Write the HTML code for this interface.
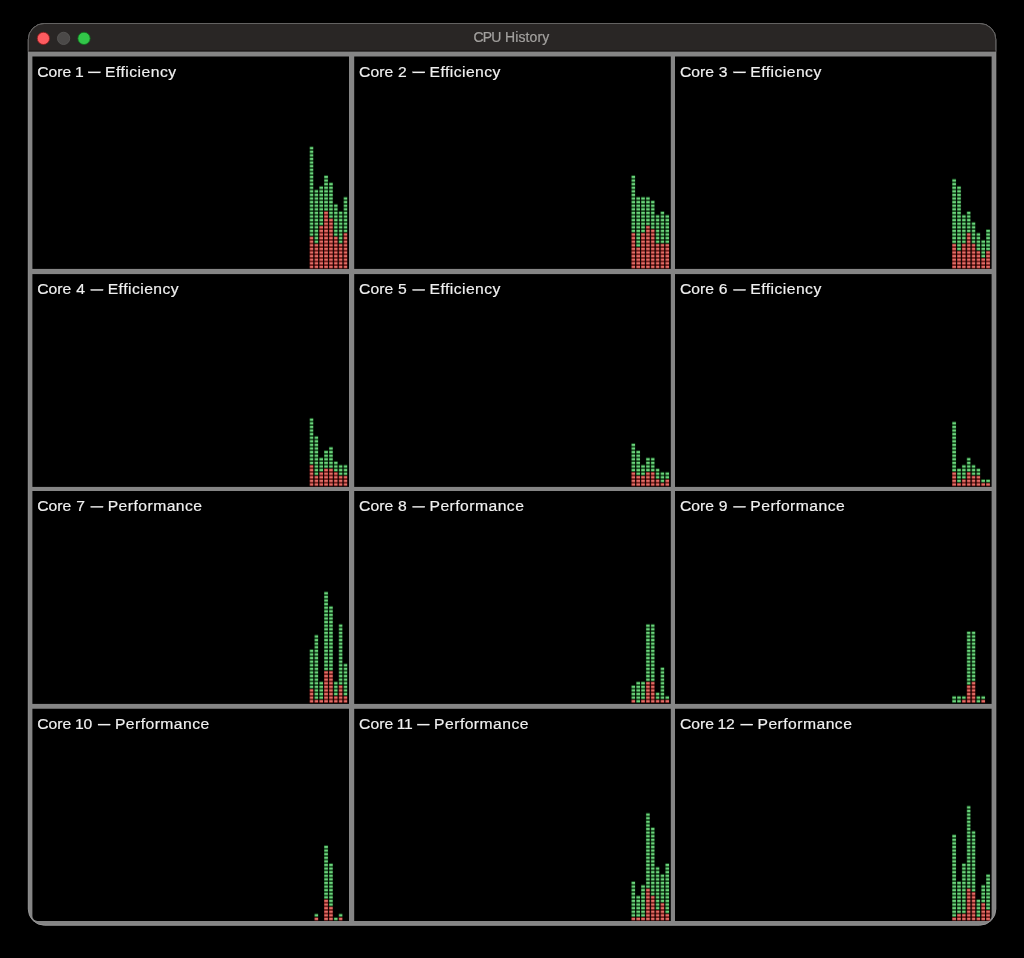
<!DOCTYPE html><html><head><meta charset="utf-8"><style>html,body{margin:0;padding:0;background:#000;overflow:hidden;width:1024px;height:958px;}svg{display:block}</style></head><body>
<svg width="1024" height="958" viewBox="0 0 1024 958">
<defs>
<pattern id="r" patternUnits="userSpaceOnUse" x="0" y="0" width="4.85" height="3.597"><rect x="0" y="0" width="4.2" height="3.597" fill="#520503"/><rect x="0.28" y="0.7" width="3.64" height="2.28" fill="#e46e68"/></pattern>
<pattern id="g" patternUnits="userSpaceOnUse" x="0" y="0" width="4.85" height="3.597"><rect x="0" y="0" width="4.2" height="3.597" fill="#022a07"/><rect x="0.28" y="0.7" width="3.64" height="2.28" fill="#6bd47c"/></pattern>
<clipPath id="tb"><rect x="0" y="0" width="1024" height="51.4"/></clipPath>
</defs>
<rect width="1024" height="958" fill="#000"/>
<rect x="28.3" y="23.5" width="967.5" height="901.7" rx="16.0" ry="16.0" fill="#858585" stroke="#989898" stroke-width="1"/>
<rect clip-path="url(#tb)" x="28.3" y="23.5" width="967.5" height="901.7" rx="16.0" ry="16.0" fill="#292625" stroke="#636261" stroke-width="1"/>
<rect x="28.8" y="50.1" width="966.5" height="1.3" fill="#1d1b1a"/>
<circle cx="43.4" cy="38.4" r="6.15" fill="#fd5b60" stroke="#8e1a1c" stroke-width="0.8"/>
<circle cx="63.6" cy="38.4" r="6.15" fill="#4b4948" stroke="#5b5958" stroke-width="0.8"/>
<circle cx="84.0" cy="38.4" r="6.15" fill="#32c649" stroke="#0f6c1c" stroke-width="0.8"/>
<g style="filter:blur(0)">
<g font-family="Liberation Sans" font-size="14" fill="#a3a19f" stroke="#a3a19f" stroke-width="0.2"><text x="473.4" y="42.2" letter-spacing="-0.8">CPU</text><text x="505.0" y="42.2" letter-spacing="0.12">History</text></g>
</g>
<rect x="32.4" y="56.5" width="316.6" height="212.4" fill="#000"/>
<g transform="translate(309.45,268.65)"><rect x="0.00" y="-32.37" width="4.2" height="32.37" fill="url(#r)"/><rect x="0.00" y="-122.30" width="4.2" height="89.92" fill="url(#g)"/><rect x="4.85" y="-25.18" width="4.2" height="25.18" fill="url(#r)"/><rect x="4.85" y="-79.13" width="4.2" height="53.95" fill="url(#g)"/><rect x="9.70" y="-43.16" width="4.2" height="43.16" fill="url(#r)"/><rect x="9.70" y="-82.73" width="4.2" height="39.57" fill="url(#g)"/><rect x="14.55" y="-57.55" width="4.2" height="57.55" fill="url(#r)"/><rect x="14.55" y="-93.52" width="4.2" height="35.97" fill="url(#g)"/><rect x="19.40" y="-50.36" width="4.2" height="50.36" fill="url(#r)"/><rect x="19.40" y="-86.33" width="4.2" height="35.97" fill="url(#g)"/><rect x="24.25" y="-32.37" width="4.2" height="32.37" fill="url(#r)"/><rect x="24.25" y="-64.75" width="4.2" height="32.37" fill="url(#g)"/><rect x="29.10" y="-25.18" width="4.2" height="25.18" fill="url(#r)"/><rect x="29.10" y="-57.55" width="4.2" height="32.37" fill="url(#g)"/><rect x="33.95" y="-35.97" width="4.2" height="35.97" fill="url(#r)"/><rect x="33.95" y="-71.94" width="4.2" height="35.97" fill="url(#g)"/></g>
<rect x="354.2" y="56.5" width="316.6" height="212.4" fill="#000"/>
<g transform="translate(631.25,268.65)"><rect x="0.00" y="-35.97" width="4.2" height="35.97" fill="url(#r)"/><rect x="0.00" y="-93.52" width="4.2" height="57.55" fill="url(#g)"/><rect x="4.85" y="-21.58" width="4.2" height="21.58" fill="url(#r)"/><rect x="4.85" y="-71.94" width="4.2" height="50.36" fill="url(#g)"/><rect x="9.70" y="-35.97" width="4.2" height="35.97" fill="url(#r)"/><rect x="9.70" y="-71.94" width="4.2" height="35.97" fill="url(#g)"/><rect x="14.55" y="-43.16" width="4.2" height="43.16" fill="url(#r)"/><rect x="14.55" y="-71.94" width="4.2" height="28.78" fill="url(#g)"/><rect x="19.40" y="-39.57" width="4.2" height="39.57" fill="url(#r)"/><rect x="19.40" y="-68.34" width="4.2" height="28.78" fill="url(#g)"/><rect x="24.25" y="-25.18" width="4.2" height="25.18" fill="url(#r)"/><rect x="24.25" y="-53.95" width="4.2" height="28.78" fill="url(#g)"/><rect x="29.10" y="-25.18" width="4.2" height="25.18" fill="url(#r)"/><rect x="29.10" y="-57.55" width="4.2" height="32.37" fill="url(#g)"/><rect x="33.95" y="-25.18" width="4.2" height="25.18" fill="url(#r)"/><rect x="33.95" y="-53.95" width="4.2" height="28.78" fill="url(#g)"/></g>
<rect x="675.0" y="56.5" width="316.6" height="212.4" fill="#000"/>
<g transform="translate(952.05,268.65)"><rect x="0.00" y="-25.18" width="4.2" height="25.18" fill="url(#r)"/><rect x="0.00" y="-89.92" width="4.2" height="64.75" fill="url(#g)"/><rect x="4.85" y="-17.98" width="4.2" height="17.98" fill="url(#r)"/><rect x="4.85" y="-82.73" width="4.2" height="64.75" fill="url(#g)"/><rect x="9.70" y="-25.18" width="4.2" height="25.18" fill="url(#r)"/><rect x="9.70" y="-53.95" width="4.2" height="28.78" fill="url(#g)"/><rect x="14.55" y="-35.97" width="4.2" height="35.97" fill="url(#r)"/><rect x="14.55" y="-57.55" width="4.2" height="21.58" fill="url(#g)"/><rect x="19.40" y="-25.18" width="4.2" height="25.18" fill="url(#r)"/><rect x="19.40" y="-46.76" width="4.2" height="21.58" fill="url(#g)"/><rect x="24.25" y="-17.98" width="4.2" height="17.98" fill="url(#r)"/><rect x="24.25" y="-35.97" width="4.2" height="17.98" fill="url(#g)"/><rect x="29.10" y="-10.79" width="4.2" height="10.79" fill="url(#r)"/><rect x="29.10" y="-28.78" width="4.2" height="17.98" fill="url(#g)"/><rect x="33.95" y="-17.98" width="4.2" height="17.98" fill="url(#r)"/><rect x="33.95" y="-39.57" width="4.2" height="21.58" fill="url(#g)"/></g>
<rect x="32.4" y="274.1" width="316.6" height="212.8" fill="#000"/>
<g transform="translate(309.45,486.25)"><rect x="0.00" y="-21.58" width="4.2" height="21.58" fill="url(#r)"/><rect x="0.00" y="-68.34" width="4.2" height="46.76" fill="url(#g)"/><rect x="4.85" y="-10.79" width="4.2" height="10.79" fill="url(#r)"/><rect x="4.85" y="-50.36" width="4.2" height="39.57" fill="url(#g)"/><rect x="9.70" y="-14.39" width="4.2" height="14.39" fill="url(#r)"/><rect x="9.70" y="-28.78" width="4.2" height="14.39" fill="url(#g)"/><rect x="14.55" y="-17.98" width="4.2" height="17.98" fill="url(#r)"/><rect x="14.55" y="-35.97" width="4.2" height="17.98" fill="url(#g)"/><rect x="19.40" y="-17.98" width="4.2" height="17.98" fill="url(#r)"/><rect x="19.40" y="-39.57" width="4.2" height="21.58" fill="url(#g)"/><rect x="24.25" y="-14.39" width="4.2" height="14.39" fill="url(#r)"/><rect x="24.25" y="-25.18" width="4.2" height="10.79" fill="url(#g)"/><rect x="29.10" y="-10.79" width="4.2" height="10.79" fill="url(#r)"/><rect x="29.10" y="-21.58" width="4.2" height="10.79" fill="url(#g)"/><rect x="33.95" y="-10.79" width="4.2" height="10.79" fill="url(#r)"/><rect x="33.95" y="-21.58" width="4.2" height="10.79" fill="url(#g)"/></g>
<rect x="354.2" y="274.1" width="316.6" height="212.8" fill="#000"/>
<g transform="translate(631.25,486.25)"><rect x="0.00" y="-14.39" width="4.2" height="14.39" fill="url(#r)"/><rect x="0.00" y="-43.16" width="4.2" height="28.78" fill="url(#g)"/><rect x="4.85" y="-10.79" width="4.2" height="10.79" fill="url(#r)"/><rect x="4.85" y="-35.97" width="4.2" height="25.18" fill="url(#g)"/><rect x="9.70" y="-10.79" width="4.2" height="10.79" fill="url(#r)"/><rect x="9.70" y="-21.58" width="4.2" height="10.79" fill="url(#g)"/><rect x="14.55" y="-14.39" width="4.2" height="14.39" fill="url(#r)"/><rect x="14.55" y="-28.78" width="4.2" height="14.39" fill="url(#g)"/><rect x="19.40" y="-14.39" width="4.2" height="14.39" fill="url(#r)"/><rect x="19.40" y="-28.78" width="4.2" height="14.39" fill="url(#g)"/><rect x="24.25" y="-7.19" width="4.2" height="7.19" fill="url(#r)"/><rect x="24.25" y="-17.98" width="4.2" height="10.79" fill="url(#g)"/><rect x="29.10" y="-3.60" width="4.2" height="3.60" fill="url(#r)"/><rect x="29.10" y="-14.39" width="4.2" height="10.79" fill="url(#g)"/><rect x="33.95" y="-7.19" width="4.2" height="7.19" fill="url(#r)"/><rect x="33.95" y="-14.39" width="4.2" height="7.19" fill="url(#g)"/></g>
<rect x="675.0" y="274.1" width="316.6" height="212.8" fill="#000"/>
<g transform="translate(952.05,486.25)"><rect x="0.00" y="-14.39" width="4.2" height="14.39" fill="url(#r)"/><rect x="0.00" y="-64.75" width="4.2" height="50.36" fill="url(#g)"/><rect x="4.85" y="-3.60" width="4.2" height="3.60" fill="url(#r)"/><rect x="4.85" y="-17.98" width="4.2" height="14.39" fill="url(#g)"/><rect x="9.70" y="-7.19" width="4.2" height="7.19" fill="url(#r)"/><rect x="9.70" y="-21.58" width="4.2" height="14.39" fill="url(#g)"/><rect x="14.55" y="-14.39" width="4.2" height="14.39" fill="url(#r)"/><rect x="14.55" y="-28.78" width="4.2" height="14.39" fill="url(#g)"/><rect x="19.40" y="-10.79" width="4.2" height="10.79" fill="url(#r)"/><rect x="19.40" y="-21.58" width="4.2" height="10.79" fill="url(#g)"/><rect x="24.25" y="-10.79" width="4.2" height="10.79" fill="url(#r)"/><rect x="24.25" y="-17.98" width="4.2" height="7.19" fill="url(#g)"/><rect x="29.10" y="-3.60" width="4.2" height="3.60" fill="url(#r)"/><rect x="29.10" y="-7.19" width="4.2" height="3.60" fill="url(#g)"/><rect x="33.95" y="-3.60" width="4.2" height="3.60" fill="url(#r)"/><rect x="33.95" y="-7.19" width="4.2" height="3.60" fill="url(#g)"/></g>
<rect x="32.4" y="491.0" width="316.6" height="212.9" fill="#000"/>
<g transform="translate(309.45,703.00)"><rect x="0.00" y="-14.39" width="4.2" height="14.39" fill="url(#r)"/><rect x="0.00" y="-53.95" width="4.2" height="39.57" fill="url(#g)"/><rect x="4.85" y="-3.60" width="4.2" height="3.60" fill="url(#r)"/><rect x="4.85" y="-68.34" width="4.2" height="64.75" fill="url(#g)"/><rect x="9.70" y="-3.60" width="4.2" height="3.60" fill="url(#r)"/><rect x="9.70" y="-21.58" width="4.2" height="17.98" fill="url(#g)"/><rect x="14.55" y="-32.37" width="4.2" height="32.37" fill="url(#r)"/><rect x="14.55" y="-111.51" width="4.2" height="79.13" fill="url(#g)"/><rect x="19.40" y="-32.37" width="4.2" height="32.37" fill="url(#r)"/><rect x="19.40" y="-97.12" width="4.2" height="64.75" fill="url(#g)"/><rect x="24.25" y="-7.19" width="4.2" height="7.19" fill="url(#r)"/><rect x="24.25" y="-21.58" width="4.2" height="14.39" fill="url(#g)"/><rect x="29.10" y="-17.98" width="4.2" height="17.98" fill="url(#r)"/><rect x="29.10" y="-79.13" width="4.2" height="61.15" fill="url(#g)"/><rect x="33.95" y="-7.19" width="4.2" height="7.19" fill="url(#r)"/><rect x="33.95" y="-39.57" width="4.2" height="32.37" fill="url(#g)"/></g>
<rect x="354.2" y="491.0" width="316.6" height="212.9" fill="#000"/>
<g transform="translate(631.25,703.00)"><rect x="0.00" y="-3.60" width="4.2" height="3.60" fill="url(#r)"/><rect x="0.00" y="-17.98" width="4.2" height="14.39" fill="url(#g)"/><rect x="4.85" y="-21.58" width="4.2" height="21.58" fill="url(#g)"/><rect x="9.70" y="-3.60" width="4.2" height="3.60" fill="url(#r)"/><rect x="9.70" y="-21.58" width="4.2" height="17.98" fill="url(#g)"/><rect x="14.55" y="-21.58" width="4.2" height="21.58" fill="url(#r)"/><rect x="14.55" y="-79.13" width="4.2" height="57.55" fill="url(#g)"/><rect x="19.40" y="-21.58" width="4.2" height="21.58" fill="url(#r)"/><rect x="19.40" y="-79.13" width="4.2" height="57.55" fill="url(#g)"/><rect x="24.25" y="-3.60" width="4.2" height="3.60" fill="url(#r)"/><rect x="24.25" y="-10.79" width="4.2" height="7.19" fill="url(#g)"/><rect x="29.10" y="-3.60" width="4.2" height="3.60" fill="url(#r)"/><rect x="29.10" y="-35.97" width="4.2" height="32.37" fill="url(#g)"/><rect x="33.95" y="-3.60" width="4.2" height="3.60" fill="url(#r)"/><rect x="33.95" y="-7.19" width="4.2" height="3.60" fill="url(#g)"/></g>
<rect x="675.0" y="491.0" width="316.6" height="212.9" fill="#000"/>
<g transform="translate(952.05,703.00)"><rect x="0.00" y="-7.19" width="4.2" height="7.19" fill="url(#g)"/><rect x="4.85" y="-7.19" width="4.2" height="7.19" fill="url(#g)"/><rect x="9.70" y="-3.60" width="4.2" height="3.60" fill="url(#r)"/><rect x="9.70" y="-7.19" width="4.2" height="3.60" fill="url(#g)"/><rect x="14.55" y="-17.98" width="4.2" height="17.98" fill="url(#r)"/><rect x="14.55" y="-71.94" width="4.2" height="53.95" fill="url(#g)"/><rect x="19.40" y="-21.58" width="4.2" height="21.58" fill="url(#r)"/><rect x="19.40" y="-71.94" width="4.2" height="50.36" fill="url(#g)"/><rect x="24.25" y="-7.19" width="4.2" height="7.19" fill="url(#g)"/><rect x="29.10" y="-3.60" width="4.2" height="3.60" fill="url(#r)"/><rect x="29.10" y="-7.19" width="4.2" height="3.60" fill="url(#g)"/></g>
<path d="M32.4,708.8 H349.0 V921.0 H37.4 A5,5 0 0 1 32.4,916.0 Z" fill="#000"/>
<g transform="translate(309.45,920.70)"><rect x="4.85" y="-3.60" width="4.2" height="3.60" fill="url(#r)"/><rect x="4.85" y="-7.19" width="4.2" height="3.60" fill="url(#g)"/><rect x="14.55" y="-21.58" width="4.2" height="21.58" fill="url(#r)"/><rect x="14.55" y="-75.54" width="4.2" height="53.95" fill="url(#g)"/><rect x="19.40" y="-14.39" width="4.2" height="14.39" fill="url(#r)"/><rect x="19.40" y="-57.55" width="4.2" height="43.16" fill="url(#g)"/><rect x="24.25" y="-3.60" width="4.2" height="3.60" fill="url(#g)"/><rect x="29.10" y="-3.60" width="4.2" height="3.60" fill="url(#r)"/><rect x="29.10" y="-7.19" width="4.2" height="3.60" fill="url(#g)"/></g>
<rect x="354.2" y="708.8" width="316.6" height="212.2" fill="#000"/>
<g transform="translate(631.25,920.70)"><rect x="0.00" y="-3.60" width="4.2" height="3.60" fill="url(#r)"/><rect x="0.00" y="-39.57" width="4.2" height="35.97" fill="url(#g)"/><rect x="4.85" y="-3.60" width="4.2" height="3.60" fill="url(#r)"/><rect x="4.85" y="-25.18" width="4.2" height="21.58" fill="url(#g)"/><rect x="9.70" y="-3.60" width="4.2" height="3.60" fill="url(#r)"/><rect x="9.70" y="-35.97" width="4.2" height="32.37" fill="url(#g)"/><rect x="14.55" y="-32.37" width="4.2" height="32.37" fill="url(#r)"/><rect x="14.55" y="-107.91" width="4.2" height="75.54" fill="url(#g)"/><rect x="19.40" y="-25.18" width="4.2" height="25.18" fill="url(#r)"/><rect x="19.40" y="-93.52" width="4.2" height="68.34" fill="url(#g)"/><rect x="24.25" y="-10.79" width="4.2" height="10.79" fill="url(#r)"/><rect x="24.25" y="-53.95" width="4.2" height="43.16" fill="url(#g)"/><rect x="29.10" y="-17.98" width="4.2" height="17.98" fill="url(#r)"/><rect x="29.10" y="-46.76" width="4.2" height="28.78" fill="url(#g)"/><rect x="33.95" y="-7.19" width="4.2" height="7.19" fill="url(#r)"/><rect x="33.95" y="-57.55" width="4.2" height="50.36" fill="url(#g)"/></g>
<path d="M675.0,708.8 H991.6 V916.0 A5,5 0 0 1 986.6,921.0 H675.0 Z" fill="#000"/>
<g transform="translate(952.05,920.70)"><rect x="0.00" y="-3.60" width="4.2" height="3.60" fill="url(#r)"/><rect x="0.00" y="-86.33" width="4.2" height="82.73" fill="url(#g)"/><rect x="4.85" y="-7.19" width="4.2" height="7.19" fill="url(#r)"/><rect x="4.85" y="-39.57" width="4.2" height="32.37" fill="url(#g)"/><rect x="9.70" y="-7.19" width="4.2" height="7.19" fill="url(#r)"/><rect x="9.70" y="-57.55" width="4.2" height="50.36" fill="url(#g)"/><rect x="14.55" y="-32.37" width="4.2" height="32.37" fill="url(#r)"/><rect x="14.55" y="-115.10" width="4.2" height="82.73" fill="url(#g)"/><rect x="19.40" y="-28.78" width="4.2" height="28.78" fill="url(#r)"/><rect x="19.40" y="-89.92" width="4.2" height="61.15" fill="url(#g)"/><rect x="24.25" y="-3.60" width="4.2" height="3.60" fill="url(#r)"/><rect x="24.25" y="-21.58" width="4.2" height="17.98" fill="url(#g)"/><rect x="29.10" y="-17.98" width="4.2" height="17.98" fill="url(#r)"/><rect x="29.10" y="-35.97" width="4.2" height="17.98" fill="url(#g)"/><rect x="33.95" y="-10.79" width="4.2" height="10.79" fill="url(#r)"/><rect x="33.95" y="-46.76" width="4.2" height="35.97" fill="url(#g)"/></g>
<g style="filter:blur(0)" font-family="Liberation Sans" font-size="15.3" fill="#f0f0f0" stroke="#f0f0f0" stroke-width="0.18">
<g transform="translate(0,76.70) scale(1.0261,1)"><text y="0"><tspan x="36.35">Core</tspan><tspan x="72.99">1</tspan></text><text x="102.43" y="0" letter-spacing="0.439">Efficiency</text></g>
<rect x="88.20" y="71.70" width="12.3" height="1.3"/>
<g transform="translate(0,76.70) scale(1.0261,1)"><text y="0"><tspan x="349.97">Core</tspan><tspan x="387.87">2</tspan></text><text x="418.58" y="0" letter-spacing="0.439">Efficiency</text></g>
<rect x="412.60" y="71.70" width="12.3" height="1.3"/>
<g transform="translate(0,76.70) scale(1.0261,1)"><text y="0"><tspan x="662.61">Core</tspan><tspan x="700.51">3</tspan></text><text x="731.22" y="0" letter-spacing="0.439">Efficiency</text></g>
<rect x="733.40" y="71.70" width="12.3" height="1.3"/>
<g transform="translate(0,294.30) scale(1.0261,1)"><text y="0"><tspan x="36.35">Core</tspan><tspan x="74.26">4</tspan></text><text x="104.96" y="0" letter-spacing="0.439">Efficiency</text></g>
<rect x="90.80" y="289.30" width="12.3" height="1.3"/>
<g transform="translate(0,294.30) scale(1.0261,1)"><text y="0"><tspan x="349.97">Core</tspan><tspan x="387.87">5</tspan></text><text x="418.58" y="0" letter-spacing="0.439">Efficiency</text></g>
<rect x="412.60" y="289.30" width="12.3" height="1.3"/>
<g transform="translate(0,294.30) scale(1.0261,1)"><text y="0"><tspan x="662.61">Core</tspan><tspan x="700.51">6</tspan></text><text x="731.22" y="0" letter-spacing="0.439">Efficiency</text></g>
<rect x="733.40" y="289.30" width="12.3" height="1.3"/>
<g transform="translate(0,511.20) scale(1.0261,1)"><text y="0"><tspan x="36.35">Core</tspan><tspan x="74.26">7</tspan></text><text x="104.96" y="0" letter-spacing="0.439">Performance</text></g>
<rect x="90.80" y="506.20" width="12.3" height="1.3"/>
<g transform="translate(0,511.20) scale(1.0261,1)"><text y="0"><tspan x="349.97">Core</tspan><tspan x="387.87">8</tspan></text><text x="418.58" y="0" letter-spacing="0.439">Performance</text></g>
<rect x="412.60" y="506.20" width="12.3" height="1.3"/>
<g transform="translate(0,511.20) scale(1.0261,1)"><text y="0"><tspan x="662.61">Core</tspan><tspan x="700.51">9</tspan></text><text x="731.22" y="0" letter-spacing="0.439">Performance</text></g>
<rect x="733.40" y="506.20" width="12.3" height="1.3"/>
<g transform="translate(0,729.00) scale(1.0261,1)"><text y="0"><tspan x="36.35">Core</tspan><tspan x="72.99">1</tspan><tspan x="81.27">0</tspan></text><text x="111.98" y="0" letter-spacing="0.439">Performance</text></g>
<rect x="98.00" y="724.00" width="12.3" height="1.3"/>
<g transform="translate(0,729.00) scale(1.0261,1)"><text y="0"><tspan x="349.97">Core</tspan><tspan x="386.60">1</tspan><tspan x="393.62">1</tspan></text><text x="423.06" y="0" letter-spacing="0.439">Performance</text></g>
<rect x="417.20" y="724.00" width="12.3" height="1.3"/>
<g transform="translate(0,729.00) scale(1.0261,1)"><text y="0"><tspan x="662.61">Core</tspan><tspan x="699.24">1</tspan><tspan x="707.53">2</tspan></text><text x="738.23" y="0" letter-spacing="0.439">Performance</text></g>
<rect x="740.60" y="724.00" width="12.3" height="1.3"/>
</g>
</svg></body></html>
